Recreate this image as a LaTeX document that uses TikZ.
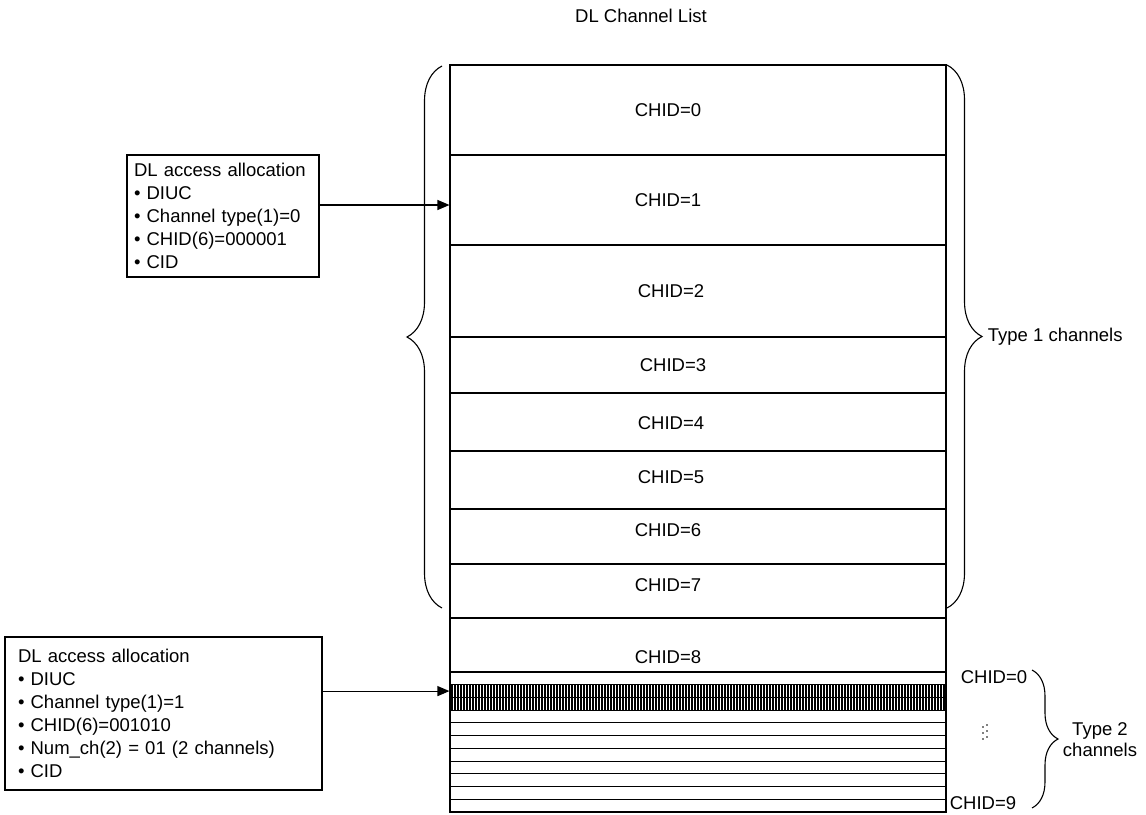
\documentclass[tikz,border=0pt]{standalone}
\usepackage{fontspec}
\setmainfont{Liberation Sans}
\usetikzlibrary{arrows.meta}
\usetikzlibrary{decorations.pathreplacing}

\begin{document}
\begin{tikzpicture}[x=1pt,y=-1pt,line width=1.1pt,
  font=\fontsize{18.5}{23}\selectfont,
  >={Triangle[length=12pt,width=10pt]},
  chan/.style={rectangle,draw=black,minimum width=496pt,inner sep=0pt},
  alloc/.style={rectangle,draw=black,align=left,inner ysep=4pt},
  curly/.style={decorate,decoration={brace,amplitude=#1}}]
\useasboundingbox (0,0) rectangle (1146,814);
\node at (641,16) (title) {DL Channel List};
% type 1 channels
\foreach \n/\t/\b/\lx/\ly in {0/65/155/668/110, 1/155/245/668/200,
  2/245/337/671/291, 3/337/393/673/365, 4/393/451/671/423,
  5/451/509/671/477, 6/509/564/668/530, 7/564/618/668/585,
  8/618/672/668/657}
{
  \pgfmathsetmacro{\h}{\b-\t}
  \pgfmathsetmacro{\c}{(\t+\b)/2}
  \node at (698,\c) (ch\n) [chan,minimum height=\h pt] {};
  \node at (\lx,\ly) (lab\n) {CHID=\n};
}
% type 2 channels
\foreach \x in {452,455,...,944}
  \draw [line width=1.6pt] (\x,684.7) -- (\x,710.2);
\foreach \i in {1,...,11}
{
  \pgfmathsetmacro{\c}{672+12.727*(\i-0.5)}
  \node at (698,\c) (st\i) [chan,minimum height=12.727pt] {};
}
\node at (994,677) (first2) {CHID=0};
\foreach \dx/\dy in {0/727,0/733,0/739,4/725,4/731,4/737}
  \fill (983+\dx,\dy) circle (0.9pt);
\node at (983,803) (last2) {CHID=9};
% allocations
\node at (223,216) (alloc1) [alloc,text width=178pt,inner xsep=7pt,minimum height=122pt]
  {DL access allocation\\• DIUC\\• Channel type(1)=0\\• CHID(6)=000001\\• CID};
\node at (163.5,713.5) (alloc2) [alloc,text width=291pt,inner xsep=13pt,minimum height=153pt]
  {DL access allocation\\• DIUC\\• Channel type(1)=1\\• CHID(6)=001010\\• Num\_ch(2) = 01 (2 channels)\\• CID};
\draw [->] (alloc1.east |- 0,205) -- (ch1.west |- 0,205);
\draw [->] (alloc2.east |- st2.west) -- (st2.west);
% braces
\draw [curly=35pt] (442,608) -- (442,66);
\draw [curly=35pt] (947,65) -- (947,608);
\draw [curly=26pt] (1032,670) -- (1032,808);
\node at (984,337) (type1) [anchor=west] {Type 1 channels};
\node at (1100,740) (type2) [align=center,font=\fontsize{18.5}{21}\selectfont] {Type 2\\channels};
\end{tikzpicture}
\end{document}
